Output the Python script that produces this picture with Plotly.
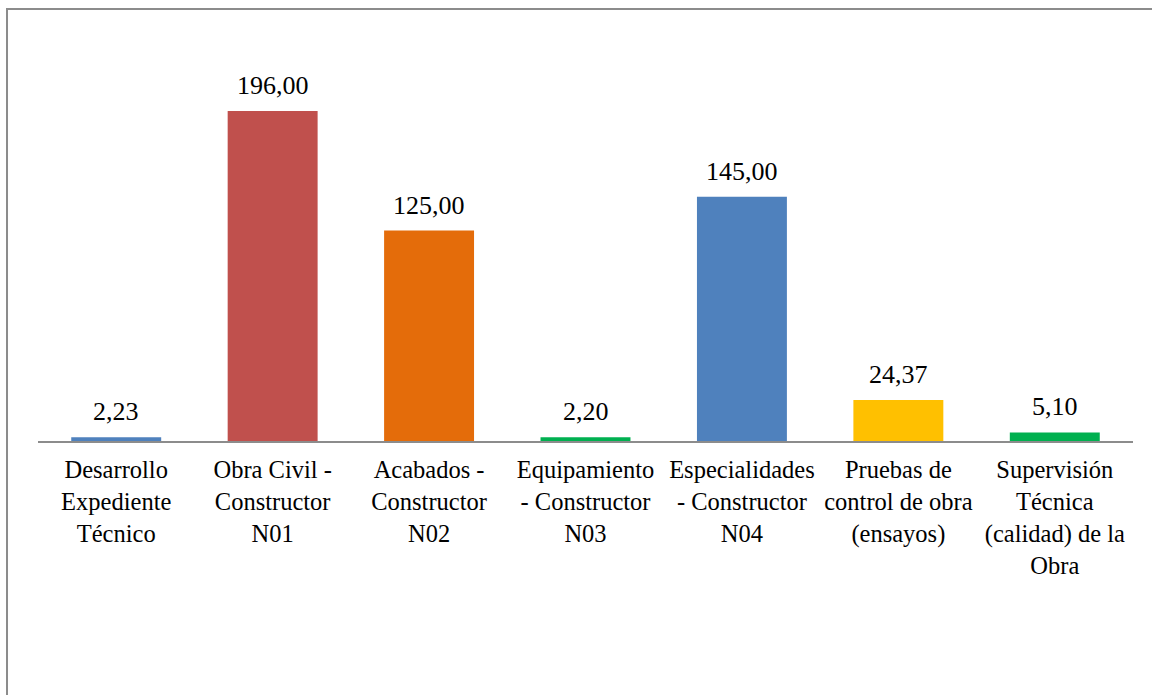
import plotly.graph_objects as go

categories = [
    "Desarrollo<br>Expediente<br>Técnico",
    "Obra Civil -<br>Constructor<br>N01",
    "Acabados -<br>Constructor<br>N02",
    "Equipamiento<br>- Constructor<br>N03",
    "Especialidades<br>- Constructor<br>N04",
    "Pruebas de<br>control de obra<br>(ensayos)",
    "Supervisión<br>Técnica<br>(calidad) de la<br>Obra",
]
values = [2.23, 196.00, 125.00, 2.20, 145.00, 24.37, 5.10]
colors = ["#4F81BD", "#C0504D", "#E46C0A", "#00B050", "#4F81BD", "#FFC000", "#00B050"]

FONT = "Liberation Serif"

fig = go.Figure(
    go.Bar(
        x=categories,
        y=values,
        marker=dict(color=colors, line=dict(width=0)),
        width=0.575,
        hoverinfo="skip",
    )
)

annotations = []
for c, v in zip(categories, values):
    annotations.append(dict(
        x=c, y=v, xref="x", yref="y",
        text=f"{v:.2f}".replace(".", ","),
        showarrow=False, yanchor="bottom", yshift=9,
        font=dict(family=FONT, size=26, color="#000000"),
    ))

fig.update_layout(
    width=1152, height=695,
    margin=dict(l=38, r=19, t=60, b=254),
    paper_bgcolor="white", plot_bgcolor="white",
    showlegend=False,
    font=dict(family=FONT, size=25, color="#000000"),
    annotations=annotations,
    shapes=[dict(
        type="rect", xref="paper", yref="paper",
        x0=-0.0283, x1=1.2, y0=-1.0, y1=1.134,
        line=dict(color="#8c8c8c", width=2), fillcolor="rgba(0,0,0,0)",
        layer="below",
    )],
    xaxis=dict(
        showline=True, linecolor="#8c8c8c", linewidth=2,
        ticks="", showgrid=False, zeroline=False,
        tickfont=dict(family=FONT, size=24.5, color="#000000"),
        tickangle=0, ticklabelstandoff=6,
    ),
    yaxis=dict(
        range=[0, 226.25], visible=False, showgrid=False, zeroline=False,
    ),
)

fig.write_html("out.html")
